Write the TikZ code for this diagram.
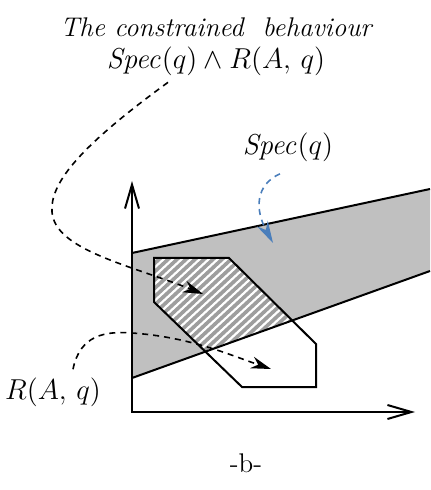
\documentclass[tikz,border=0pt]{standalone}
\usepackage{amsmath,amssymb}
\usetikzlibrary{arrows.meta,positioning}
\definecolor{bandgray}{HTML}{C0C0C0}
\definecolor{specblue}{HTML}{4A7EBB}

\begin{document}
\begin{tikzpicture}[
  x=0.5pt, y=-0.5pt,
  lbl/.style={font=\fontsize{13.5}{16}\selectfont\itshape, align=center, inner sep=1pt},
  axis/.style={line width=1pt,
               {Straight Barb[length=12pt,width=7pt]}-{Straight Barb[length=12pt,width=7pt]}},
  edge/.style={line width=1pt, line join=miter},
  hatch/.style={line width=1.8pt, black!38},
  pointer/.style={-{Stealth[length=10pt,width=6pt]}, line width=0.8pt,
                  dash pattern=on 3pt off 2.5pt},
]
  \useasboundingbox (0,0) rectangle (430,490);

  %% Spec(q) band
  \fill[bandgray] (132,253) -- (430,189) -- (430,271) -- (132,378) -- cycle;

  %% hatched part: band and polygon together
  \begin{scope}
    \clip (132,253) -- (430,189) -- (430,271) -- (132,378) -- cycle;
    \clip (154,258) -- (229,258) -- (316,344) -- (316,387) -- (242,387) -- (154,302) -- cycle;
    \fill[white] (100,180) rectangle (430,420);
    \foreach \s in {0,9,...,450}
      \draw[hatch] ({\s-150},420) -- ({\s+110},180);
  \end{scope}

  %% outlines
  \draw[edge] (132,253) -- (430,189);
  \draw[edge] (132,378) -- (430,271);
  \draw[edge] (154,258) -- (229,258) -- (316,344) -- (316,387) -- (242,387) -- (154,302) -- cycle;

  %% axes
  \coordinate (origin) at (132,412);
  \coordinate (ytop) at (132,181);
  \coordinate (xend) at (415,412);
  \draw[axis] (ytop) -- (origin) -- (xend);

  %% labels
  \node[lbl] (constr) at (216,47) {The constrained~ behaviour\\ $\mathit{Spec}(q)\wedge R(A,\,q)$};
  \node[lbl] (spec) at (288,147) {$\mathit{Spec}(q)$};
  \node[lbl] (rel) at (53,392) {$R(A,\,q)$};
  \node[font=\fontsize{13.5}{16}\selectfont] (fig) at (246,463) {-b-};

  %% pointers
  \coordinate (inter) at (203,294);
  \coordinate (rtip) at (271,369);
  \coordinate (stip) at (273,243);
  \draw[pointer] ([xshift=-24pt,yshift=-2pt]constr.south) .. controls (75,150) and (50,185) .. (52,212)
    .. controls (55,250) and (130,265) .. (inter);
  \draw[pointer] ([xshift=10pt,yshift=3pt]rel.north) .. controls (80,335) and (105,331) .. (132,333)
    .. controls (190,337) and (230,355) .. (rtip);
  \draw[pointer, specblue, -{Stealth[length=11pt,width=6pt]}] ([xshift=-4pt,yshift=-5pt]spec.south)
    .. controls (255,185) and (255,210) .. (stip);

\end{tikzpicture}
\end{document}
